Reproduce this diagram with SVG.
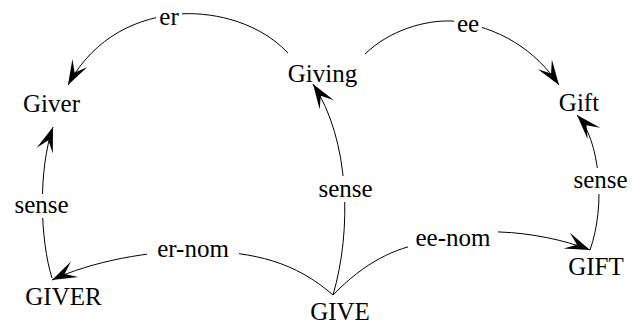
<svg xmlns="http://www.w3.org/2000/svg" width="632" height="327" viewBox="0 0 632 327">
<style>
.n{font-family:"Liberation Serif","Times New Roman",serif;font-size:25px;fill:#000;text-anchor:middle}
.e{fill:none;stroke:#000;stroke-width:1}
.bg{fill:#fff}
</style>
<defs>
<marker id="ah" markerUnits="userSpaceOnUse" markerWidth="30" markerHeight="22" viewBox="-26 -11 28 22" refX="0" refY="0" orient="auto">
<path d="M0,0 L-25,-8.5 L-14,0 L-25,8.5 Z" fill="#000"/>
</marker>
</defs>
<rect width="632" height="327" fill="#fff"/>
<g id="connectors">
<path class="e" d="M288,53 C255,18 205,12 180,14 C140,17 95,35 68,85" marker-end="url(#ah)"/>
<path class="e" d="M365,54 C390,30 425,20 452,21 C500,27 535,50 559,85" marker-end="url(#ah)"/>
<path class="e" d="M333,295 C352,230 350,140 313,84" marker-end="url(#ah)"/>
<path class="e" d="M333,295 C295,262 255,252 200,251 C150,250 90,262 52,280" marker-end="url(#ah)"/>
<path class="e" d="M333,295 C365,262 395,248 425,243 C460,236 480,231 500,232 C530,233 565,240 590,250" marker-end="url(#ah)"/>
<path class="e" d="M590,250 C606,205 600,140 577,115" marker-end="url(#ah)"/>
<path class="e" d="M52,278 C40,240 38,170 53,127" marker-end="url(#ah)"/>
<rect class="bg" x="156" y="8" width="26" height="20"/>
<rect class="bg" x="454" y="14" width="28" height="20"/>
<rect class="bg" x="9" y="194" width="65" height="24"/>
<rect class="bg" x="147" y="238" width="92" height="24"/>
<rect class="bg" x="313" y="176" width="65" height="26"/>
<rect class="bg" x="408" y="226" width="90" height="24"/>
<rect class="bg" x="569" y="168" width="63" height="26"/>
<text class="n" x="169" y="25">er</text>
<text class="n" x="468" y="32">ee</text>
<text class="n" x="41.5" y="213">sense</text>
<text class="n" x="193" y="257">er-nom</text>
<text class="n" x="345.5" y="197">sense</text>
<text class="n" x="453" y="246">ee-nom</text>
<text class="n" x="600.5" y="188">sense</text>
</g>
<g id="Giver"><text class="n" x="51.5" y="112">Giver</text></g>
<g id="Giving"><text class="n" x="322.5" y="82">Giving</text></g>
<g id="Gift"><text class="n" x="579" y="111">Gift</text></g>
<g id="GIVER"><text class="n" x="63.5" y="305">GIVER</text></g>
<g id="GIVE"><text class="n" x="340" y="320">GIVE</text></g>
<g id="GIFT"><text class="n" x="596" y="275">GIFT</text></g>
</svg>
